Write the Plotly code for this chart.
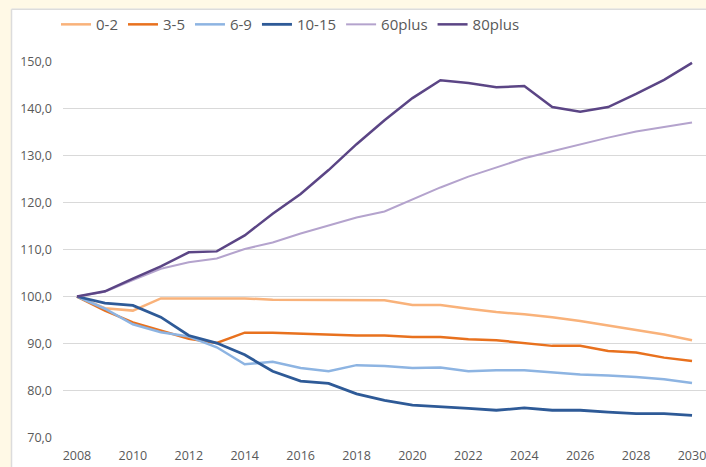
import plotly.graph_objects as go

years = list(range(2008, 2031))

s_0_2 = [100.0, 97.5, 97.0, 99.6, 99.6, 99.6, 99.6, 99.3, 99.3, 99.3, 99.3, 99.2,
         98.2, 98.2, 97.4, 96.7, 96.2, 95.6, 94.8, 93.8, 92.9, 91.9, 90.7]
s_3_5 = [100.0, 97.0, 94.5, 92.8, 91.0, 90.1, 92.3, 92.3, 92.1, 92.0, 91.7, 91.7,
         91.4, 91.4, 90.9, 90.7, 90.1, 89.5, 89.5, 88.4, 88.1, 87.0, 86.3]
s_6_9 = [100.0, 97.4, 94.1, 92.4, 91.5, 89.2, 85.6, 86.1, 84.8, 84.1, 85.4, 85.2,
         84.8, 84.9, 84.1, 84.3, 84.3, 83.8, 83.4, 83.2, 82.9, 82.4, 81.6]
s_10_15 = [100.0, 98.6, 98.1, 95.6, 91.7, 90.1, 87.6, 84.1, 82.0, 81.5, 79.3, 77.9,
           76.9, 76.6, 76.2, 75.8, 76.3, 75.8, 75.8, 75.4, 75.1, 75.1, 74.7]
s_60plus = [100.0, 101.0, 103.5, 105.9, 107.3, 108.1, 110.1, 111.5, 113.4, 115.1, 116.8, 118.1,
            120.7, 123.2, 125.5, 127.5, 129.4, 130.9, 132.4, 133.8, 135.1, 136.0, 137.0]
s_80plus = [100.0, 101.1, 103.8, 106.4, 109.4, 109.6, 113.0, 117.6, 121.8, 126.9, 132.4, 137.5,
            142.2, 146.0, 145.4, 144.5, 144.8, 140.3, 139.3, 140.3, 143.1, 146.1, 149.7]

names = ["0-2", "3-5", "6-9", "10-15", "60plus", "80plus"]
colors = ["#F9B27A", "#E8711E", "#8DB4E2", "#2E5A97", "#B4A3CD", "#5B4585"]
widths = [2.5, 2.5, 2.5, 2.8, 2.0, 2.5]
series = [s_0_2, s_3_5, s_6_9, s_10_15, s_60plus, s_80plus]

fig = go.Figure()
for n, c, w, s in zip(names, colors, widths, series):
    fig.add_trace(go.Scatter(x=years, y=s, name=n, mode="lines",
                             line=dict(color=c, width=w)))

W, H = 706, 467
L, R, T, B = 63, 0, 60.5, 28.5
pw, ph = W - L - R, H - T - B

def px_x(p):
    return (p - L) / pw

def px_y(p):
    return (H - B - p) / ph

yellow = "#FFF9E6"
fig.update_layout(
    width=W, height=H,
    margin=dict(l=L, r=R, t=T, b=B, pad=0, autoexpand=False),
    paper_bgcolor="white",
    plot_bgcolor="white",
    separators=", ",
    font=dict(family="Open Sans, Liberation Sans, sans-serif", color="#595959", size=12.5),
    showlegend=True,
    legend=dict(orientation="h", x=px_x(56), y=px_y(24), xanchor="left", yanchor="middle",
                font=dict(size=15, color="#595959"), bgcolor="rgba(0,0,0,0)",
                itemwidth=30, tracegroupgap=0),
    shapes=[
        dict(type="rect", xref="paper", yref="paper",
             x0=px_x(-5), x1=px_x(11), y0=px_y(480), y1=px_y(-5),
             fillcolor=yellow, line=dict(width=0), layer="above"),
        dict(type="rect", xref="paper", yref="paper",
             x0=px_x(-5), x1=px_x(720), y0=px_y(8), y1=px_y(-5),
             fillcolor=yellow, line=dict(width=0), layer="above"),
        dict(type="line", xref="paper", yref="paper",
             x0=px_x(11.5), x1=px_x(11.5), y0=px_y(480), y1=px_y(8.5),
             line=dict(color="#DCDCDC", width=1.5), layer="above"),
        dict(type="line", xref="paper", yref="paper",
             x0=px_x(11.5), x1=px_x(720), y0=px_y(8.5), y1=px_y(8.5),
             line=dict(color="#DCDCDC", width=1.5), layer="above"),
    ],
    xaxis=dict(range=[2007.5, 2030.5], tickmode="array", tickvals=list(range(2008, 2031, 2)),
               ticktext=[str(y) for y in range(2008, 2031, 2)],
               showgrid=False, zeroline=False, showline=False, ticks="",
               ticklabelstandoff=8, ticklabeloverflow="allow",
               tickfont=dict(size=12.5, color="#595959")),
    yaxis=dict(range=[69.9, 150.1], tickmode="array", tickvals=list(range(70, 151, 10)),
               tickformat=".1f", showgrid=True, gridcolor="#D9D9D9", gridwidth=1,
               zeroline=False, showline=False, ticks="", ticklabelstandoff=10,
               tickfont=dict(size=12.5, color="#595959")),
)

fig.write_html("out.html", config={"displayModeBar": False},
               post_script="document.body.style.margin='0';")
